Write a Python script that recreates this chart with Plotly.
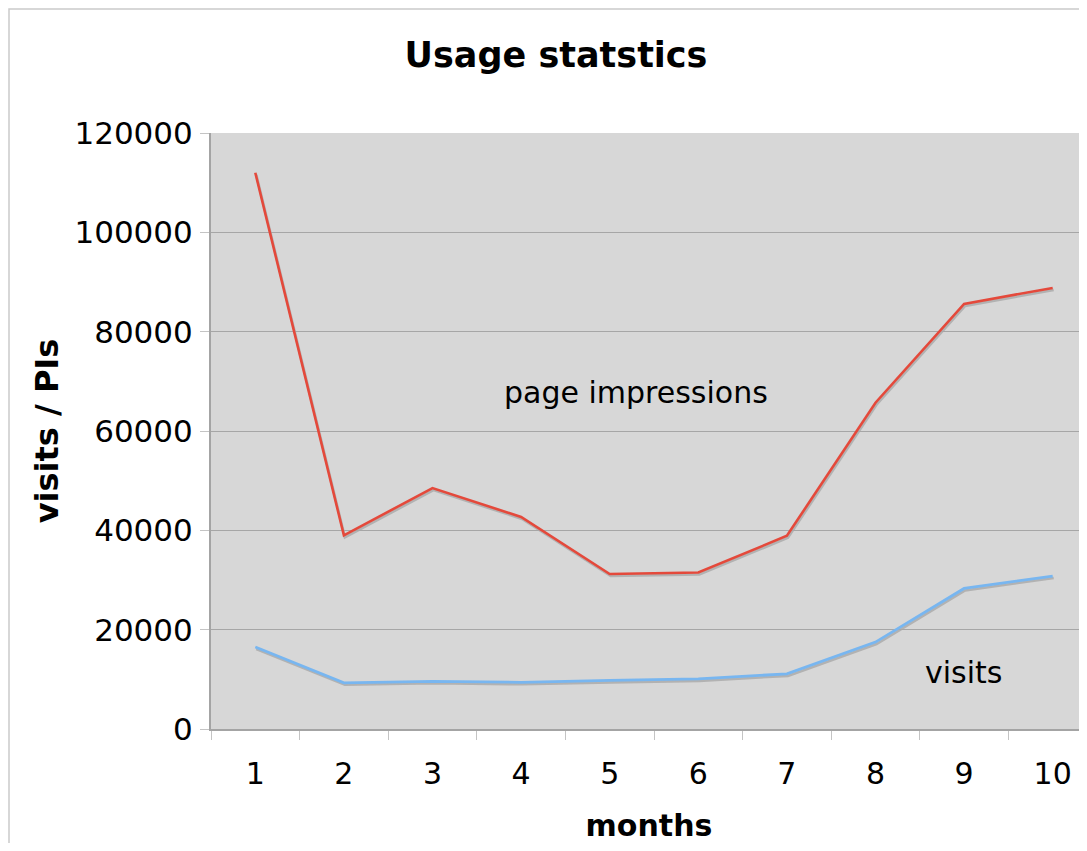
import plotly.graph_objects as go

months = ["1", "2", "3", "4", "5", "6", "7", "8", "9", "10"]
page_impressions = [112000, 39000, 48500, 42700, 31200, 31500, 38900, 65700, 85600, 88800]
visits = [16500, 9300, 9600, 9400, 9800, 10100, 11100, 17500, 28300, 30800]
y_ticks = [0, 20000, 40000, 60000, 80000, 100000, 120000]
y_labels = ["0", "20000", "40000", "60000", "80000", "100000", "120000"]

OFF = 8  # page body margin
W, H = 1079, 835
ML, MR, MT, MB = 211 - OFF, 0, 133 - OFF, 835 - (729 - OFF)
plot_w = W - ML - MR
plot_h = H - MT - MB
cat_px = 88.6
x_range = [-0.5, -0.5 + plot_w / cat_px]
y_range = [0, 120000]
dy = 2 * (y_range[1] - y_range[0]) / plot_h   # shadow 2px down
dx = 1 / cat_px                                 # shadow 1px right

RED = "#e4493b"
BLUE = "#78b6f0"
SHADOW = "#a9a9a9"
FONT = "DejaVu Sans"

fig = go.Figure()
fig.add_trace(go.Scatter(x=months, y=visits, mode="lines", line=dict(width=0),
                         opacity=0, hoverinfo="skip", showlegend=False))
for vals in (page_impressions, visits):
    fig.add_trace(go.Scatter(x=months, y=vals, mode="lines", xaxis="x2", yaxis="y2",
                             line=dict(color=SHADOW, width=2.6), opacity=0.8,
                             hoverinfo="skip", showlegend=False))
fig.add_trace(go.Scatter(x=months, y=page_impressions, mode="lines", xaxis="x3", yaxis="y3",
                         line=dict(color=RED, width=2.6), name="page impressions", showlegend=False))
fig.add_trace(go.Scatter(x=months, y=visits, mode="lines", xaxis="x3", yaxis="y3",
                         line=dict(color=BLUE, width=2.8), name="visits", showlegend=False))

hidden = dict(visible=False, showgrid=False, zeroline=False, fixedrange=True)

fig.update_layout(
    width=W, height=H,
    margin=dict(l=ML, r=MR, t=MT, b=MB, pad=0),
    paper_bgcolor="white",
    plot_bgcolor="#d7d7d7",
    font=dict(family=FONT, size=30, color="black"),
    title=dict(text="<b>Usage statstics</b>", x=(556 - OFF) / W, xanchor="center",
               y=1 - (55 - OFF) / H, yanchor="middle", font=dict(size=35, family=FONT)),
    xaxis=dict(type="category", range=x_range, tickson="boundaries",
               ticks="outside", ticklen=9, tickcolor="#c4c4c4", tickwidth=1,
               showgrid=False, zeroline=False,
               showline=True, linecolor="#a4a4a4", linewidth=2,
               ticklabelstandoff=17,
               title=dict(text="<b>months</b>", font=dict(size=30), standoff=30)),
    yaxis=dict(range=y_range, tickvals=y_ticks, ticktext=y_labels, ticks="outside", ticklen=9,
               tickcolor="#c4c4c4", tickwidth=1, tickfont=dict(size=31),
               showgrid=True, gridcolor="#a6a6a6", gridwidth=1, zeroline=False,
               showline=True, linecolor="#a4a4a4", linewidth=2,
               ticklabelstandoff=1,
               title=dict(text="<b>visits / PIs</b>", font=dict(size=32), standoff=6)),
    xaxis2=dict(type="category", overlaying="x", range=[x_range[0] - dx, x_range[1] - dx], **hidden),
    yaxis2=dict(overlaying="y", range=[y_range[0] + dy, y_range[1] + dy], **hidden),
    xaxis3=dict(type="category", overlaying="x", range=x_range, **hidden),
    yaxis3=dict(overlaying="y", range=y_range, **hidden),
    annotations=[
        dict(text="page impressions", x=4.297, y=67850, xref="x", yref="y",
             showarrow=False, font=dict(size=30), xanchor="center", yanchor="middle"),
        dict(text="visits", x=7.99, y=11300, xref="x", yref="y",
             showarrow=False, font=dict(size=30), xanchor="center", yanchor="middle"),
    ],
    shapes=[
        dict(type="rect", xref="paper", yref="paper",
             x0=(9 - OFF - ML) / plot_w, x1=1.2, y0=-0.5, y1=1 + (MT - (9 - OFF)) / plot_h,
             line=dict(color="#cacaca", width=1.5), layer="below"),
    ],
    showlegend=False,
)

fig.write_html("out.html")
